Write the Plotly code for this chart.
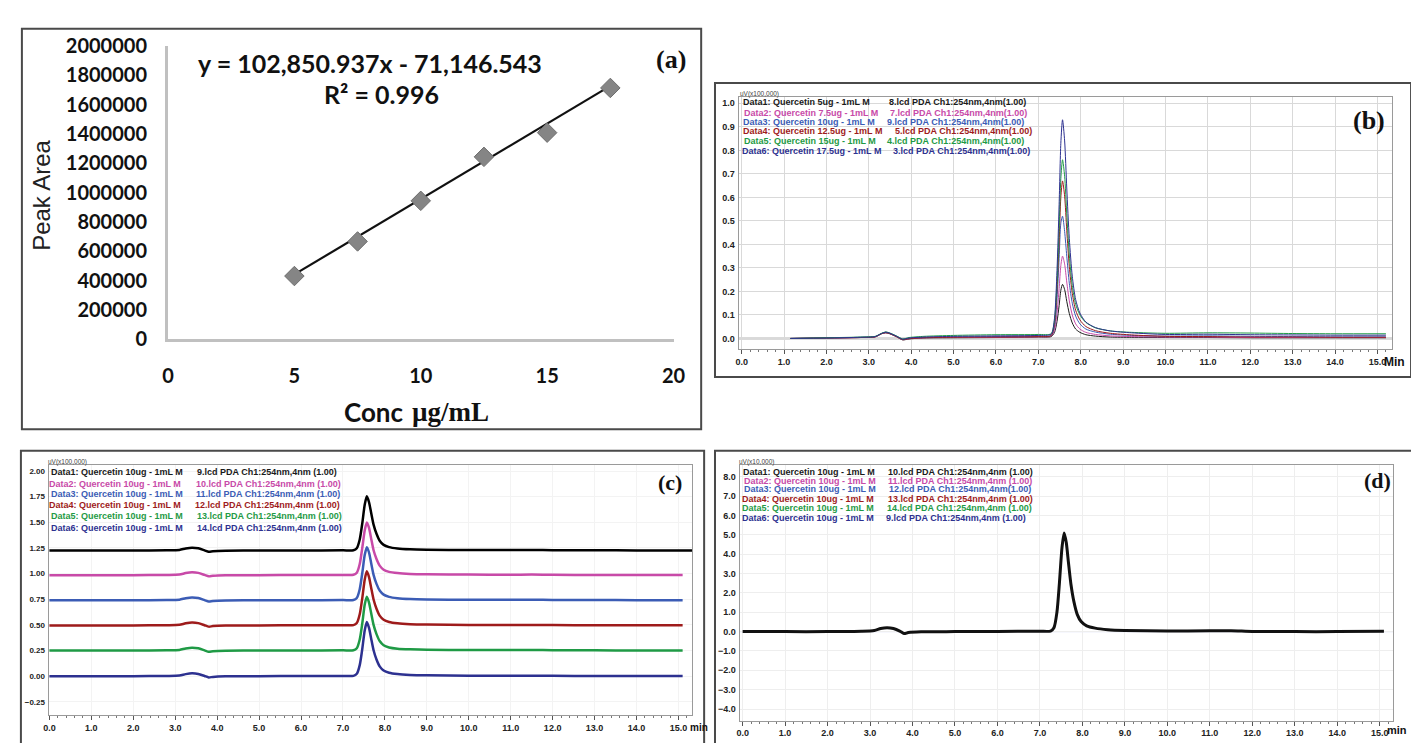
import plotly.graph_objects as go

# ---------------- Panel (a): calibration ----------------
conc = [5, 7.5, 10, 12.5, 15, 17.5]
peak_area = [432000, 668000, 945000, 1245000, 1410000, 1715000]
slope = 102850.937
intercept = -71146.543
a_xticks = [0, 5, 10, 15, 20]
a_yticks = [0, 200000, 400000, 600000, 800000, 1000000, 1200000, 1400000, 1600000, 1800000, 2000000]

# ---------------- Panel (b): linearity chromatograms ----------------
b_time = [1.15, 2.0, 2.8, 3.15, 3.3, 3.4, 3.5, 3.65, 3.8, 3.95, 4.3, 5.0, 6.0, 7.0,
          7.3, 7.38, 7.44, 7.49, 7.53, 7.57, 7.62, 7.67, 7.73, 7.8, 7.88, 7.98, 8.12, 8.35, 8.7, 9.2,
          10.0, 11.0, 12.0, 13.0, 14.0, 15.2]
b_data1 = [0.0, 0.002, 0.004, 0.007, 0.02, 0.024, 0.02, 0.008, -0.006, -0.002, 0.002, 0.003, 0.004, 0.006,
           0.008, 0.025, 0.072, 0.14, 0.205, 0.23, 0.208, 0.158, 0.106, 0.066, 0.04, 0.026, 0.016, 0.01, 0.006, 0.005,
           0.004, 0.004, 0.003, 0.003, 0.003, 0.003]
b_data2 = [0.0, 0.002, 0.004, 0.007, 0.021, 0.025, 0.021, 0.008, -0.005, -0.001, 0.003, 0.004, 0.005, 0.007,
           0.01, 0.035, 0.108, 0.212, 0.31, 0.35, 0.316, 0.24, 0.16, 0.1, 0.062, 0.04, 0.026, 0.017, 0.011, 0.008,
           0.006, 0.006, 0.004, 0.004, 0.004, 0.004]
b_data3 = [0.0, 0.002, 0.005, 0.008, 0.021, 0.026, 0.021, 0.009, -0.004, 0.0, 0.004, 0.006, 0.008, 0.01,
           0.012, 0.05, 0.17, 0.34, 0.49, 0.52, 0.455, 0.35, 0.235, 0.15, 0.095, 0.062, 0.04, 0.027, 0.018, 0.013,
           0.01, 0.011, 0.009, 0.008, 0.007, 0.007]
b_data4 = [0.0, 0.002, 0.004, 0.007, 0.02, 0.025, 0.02, 0.008, -0.005, -0.001, 0.003, 0.005, 0.006, 0.008,
           0.012, 0.06, 0.21, 0.41, 0.6, 0.67, 0.605, 0.46, 0.305, 0.192, 0.12, 0.079, 0.051, 0.033, 0.022, 0.015,
           0.009, 0.008, 0.006, 0.006, 0.005, 0.005]
b_data5 = [0.0, 0.003, 0.006, 0.009, 0.022, 0.028, 0.023, 0.011, -0.002, 0.004, 0.009, 0.013, 0.016, 0.017,
           0.02, 0.075, 0.24, 0.47, 0.68, 0.76, 0.69, 0.53, 0.355, 0.225, 0.145, 0.1, 0.068, 0.045, 0.032, 0.026,
           0.022, 0.024, 0.023, 0.021, 0.02, 0.02]
b_data6 = [0.0, 0.002, 0.005, 0.008, 0.021, 0.027, 0.022, 0.01, -0.003, 0.002, 0.006, 0.009, 0.011, 0.013,
           0.018, 0.085, 0.29, 0.57, 0.83, 0.93, 0.84, 0.64, 0.425, 0.265, 0.165, 0.108, 0.07, 0.046, 0.032, 0.024,
           0.017, 0.018, 0.016, 0.015, 0.014, 0.014]
b_names = ["Data1: Quercetin 5ug - 1mL M", "Data2: Quercetin 7.5ug - 1mL M", "Data3: Quercetin 10ug - 1mL M",
           "Data4: Quercetin 12.5ug - 1mL M", "Data5: Quercetin 15ug - 1mL M", "Data6: Quercetin 17.5ug - 1mL M"]
b_files = ["8.lcd PDA Ch1:254nm,4nm(1.00)", "7.lcd PDA Ch1:254nm,4nm(1.00)", "9.lcd PDA Ch1:254nm,4nm(1.00)",
           "5.lcd PDA Ch1:254nm,4nm(1.00)", "4.lcd PDA Ch1:254nm,4nm(1.00)", "3.lcd PDA Ch1:254nm,4nm(1.00)"]

# ---------------- Panel (c): repeatability (offset) ----------------
c_time = [0.0, 1.0, 2.0, 2.8, 3.1, 3.25, 3.4, 3.55, 3.7, 3.8, 3.9, 4.2, 5.0, 6.0, 7.0,
          7.25, 7.33, 7.4, 7.46, 7.52, 7.57, 7.62, 7.67, 7.73, 7.8, 7.88, 7.97, 8.1, 8.3, 8.6, 9.0,
          10.0, 11.0, 11.5, 12.0, 13.0, 14.0, 15.1]
c_time_data1 = [0.0, 1.0, 2.0, 2.8, 3.1, 3.25, 3.4, 3.55, 3.7, 3.8, 3.9, 4.2, 5.0, 6.0, 7.0,
                7.25, 7.33, 7.4, 7.46, 7.52, 7.57, 7.62, 7.67, 7.73, 7.8, 7.88, 7.97, 8.1, 8.3, 8.6, 9.0,
                10.0, 11.0, 11.5, 12.0, 13.0, 14.0, 15.35]
c_data1 = [1.225, 1.225, 1.225, 1.227, 1.231, 1.245, 1.253, 1.247, 1.227, 1.213, 1.218, 1.223, 1.225, 1.226, 1.227,
           1.228, 1.248, 1.333, 1.488, 1.673, 1.753, 1.698, 1.598, 1.478, 1.388, 1.318, 1.28, 1.258, 1.245, 1.237, 1.233,
           1.23, 1.229, 1.23, 1.228, 1.227, 1.226, 1.226]
c_data2 = [0.985, 0.985, 0.985, 0.987, 0.991, 1.005, 1.013, 1.007, 0.987, 0.973, 0.978, 0.983, 0.985, 0.986, 0.987,
           0.988, 1.008, 1.093, 1.248, 1.423, 1.498, 1.448, 1.348, 1.228, 1.143, 1.075, 1.038, 1.017, 1.005, 0.997, 0.993,
           0.99, 0.989, 0.99, 0.988, 0.987, 0.986, 0.986]
c_data3 = [0.74, 0.74, 0.74, 0.742, 0.746, 0.76, 0.768, 0.762, 0.742, 0.728, 0.733, 0.738, 0.74, 0.741, 0.742,
           0.743, 0.763, 0.848, 1.003, 1.183, 1.258, 1.208, 1.108, 0.988, 0.9, 0.832, 0.795, 0.773, 0.76, 0.752, 0.748,
           0.745, 0.744, 0.745, 0.743, 0.742, 0.741, 0.741]
c_data4 = [0.495, 0.495, 0.495, 0.497, 0.501, 0.515, 0.523, 0.517, 0.497, 0.483, 0.488, 0.493, 0.495, 0.496, 0.497,
           0.498, 0.518, 0.603, 0.758, 0.943, 1.023, 0.968, 0.868, 0.748, 0.658, 0.588, 0.55, 0.528, 0.515, 0.507, 0.503,
           0.5, 0.499, 0.5, 0.498, 0.497, 0.496, 0.496]
c_data5 = [0.25, 0.25, 0.25, 0.252, 0.256, 0.27, 0.278, 0.272, 0.252, 0.238, 0.243, 0.248, 0.25, 0.251, 0.252,
           0.253, 0.273, 0.358, 0.513, 0.698, 0.775, 0.72, 0.62, 0.5, 0.41, 0.34, 0.302, 0.28, 0.268, 0.262, 0.258,
           0.255, 0.254, 0.255, 0.253, 0.252, 0.251, 0.251]
c_data6 = [0.0, 0.0, 0.0, 0.002, 0.006, 0.02, 0.028, 0.022, 0.002, -0.012, -0.007, -0.002, 0.0, 0.001, 0.002,
           0.003, 0.023, 0.108, 0.263, 0.448, 0.528, 0.473, 0.373, 0.253, 0.163, 0.093, 0.055, 0.033, 0.02, 0.012, 0.008,
           0.005, 0.004, 0.005, 0.003, 0.002, 0.001, 0.001]
c_names = ["Data1: Quercetin 10ug - 1mL M", "Data2: Quercetin 10ug - 1mL M", "Data3: Quercetin 10ug - 1mL M",
           "Data4: Quercetin 10ug - 1mL M", "Data5: Quercetin 10ug - 1mL M", "Data6: Quercetin 10ug - 1mL M"]
c_files = ["9.lcd PDA Ch1:254nm,4nm (1.00)", "10.lcd PDA Ch1:254nm,4nm (1.00)", "11.lcd PDA Ch1:254nm,4nm (1.00)",
           "12.lcd PDA Ch1:254nm,4nm (1.00)", "13.lcd PDA Ch1:254nm,4nm (1.00)", "14.lcd PDA Ch1:254nm,4nm (1.00)"]

# ---------------- Panel (d): overlaid repeatability ----------------
d_time = [0.0, 1.0, 2.0, 2.8, 3.1, 3.25, 3.4, 3.55, 3.7, 3.8, 3.9, 4.2, 5.0, 6.0, 7.0,
          7.25, 7.33, 7.4, 7.46, 7.52, 7.57, 7.62, 7.67, 7.73, 7.8, 7.88, 7.97, 8.1, 8.3, 8.6, 9.0,
          10.0, 11.0, 11.5, 12.0, 13.0, 14.0, 15.1]
d_data = [0.0, 0.0, 0.0, 0.02, 0.06, 0.16, 0.2, 0.16, 0.03, -0.1, -0.05, -0.01, 0.0, 0.01, 0.02,
          0.03, 0.2, 1.0, 2.55, 4.35, 5.1, 4.6, 3.6, 2.45, 1.55, 0.88, 0.52, 0.3, 0.18, 0.1, 0.06,
          0.03, 0.04, 0.05, 0.01, 0.0, 0.0, 0.02]
d_names = c_names
d_files = ["10.lcd PDA Ch1:254nm,4nm (1.00)", "11.lcd PDA Ch1:254nm,4nm (1.00)", "12.lcd PDA Ch1:254nm,4nm(1.00)",
           "13.lcd PDA Ch1:254nm,4nm (1.00)", "14.lcd PDA Ch1:254nm,4nm (1.00)", "9.lcd PDA Ch1:254nm,4nm (1.00)"]

chrom_ticks = list(range(0, 16))
chrom_ticktext = ["%.1f" % t for t in chrom_ticks]

series_colors = ["#1a1a1a", "#c84aa8", "#3b5cb5", "#9e1b1b", "#1f9a45", "#2d3190"]

W, H = 1419, 743
def px(x):
    return x / W
def py(y):
    return 1 - y / H

fig = go.Figure()

# ---- (a) traces
fig.add_trace(go.Scatter(x=[conc[0], conc[-1]],
                         y=[slope * conc[0] + intercept, slope * conc[-1] + intercept],
                         mode="lines", line=dict(color="#111111", width=2.2), xaxis="x", yaxis="y"))
fig.add_trace(go.Scatter(x=conc, y=peak_area, mode="markers",
                         marker=dict(symbol="diamond", size=15, color="#858585",
                                     line=dict(color="#6e6e6e", width=1)),
                         xaxis="x", yaxis="y"))

# ---- (b) traces
fig.add_shape(type="line", xref="x2", yref="y2", x0=-0.07, x1=15.35, y0=0, y1=0,
              line=dict(color="#b5b5b5", width=2), layer="below")
for data, col in zip([b_data1, b_data2, b_data3, b_data4, b_data5, b_data6], series_colors):
    fig.add_trace(go.Scatter(x=b_time, y=data, mode="lines",
                             line=dict(color=col, width=1, shape="spline", smoothing=0.7),
                             xaxis="x2", yaxis="y2"))

# ---- (c) traces (draw bottom first)
c_sets = [(c_time, c_data6, series_colors[5]), (c_time, c_data5, series_colors[4]),
          (c_time, c_data4, series_colors[3]), (c_time, c_data3, series_colors[2]),
          (c_time, c_data2, series_colors[1]), (c_time_data1, c_data1, "#000000")]
for tt, data, col in c_sets:
    fig.add_trace(go.Scatter(x=tt, y=data, mode="lines",
                             line=dict(color=col, width=2.5, shape="spline", smoothing=0.7),
                             xaxis="x3", yaxis="y3"))

# ---- (d) traces
fig.add_shape(type="line", xref="x4", yref="y4", x0=-0.07, x1=15.32, y0=0, y1=0,
              line=dict(color="#aab4e6", width=1), layer="below")
fig.add_trace(go.Scatter(x=d_time, y=d_data, mode="lines",
                         line=dict(color="#111111", width=3, shape="spline", smoothing=0.7),
                         xaxis="x4", yaxis="y4"))

chrom_font = dict(family="Liberation Sans, Arial", size=9, color="#222222", weight="bold")

def chrom_x(domain, rng, anchor, grid, gridcolor):
    return dict(domain=domain, range=rng, anchor=anchor, tickvals=chrom_ticks, ticktext=chrom_ticktext,
                showgrid=grid, gridcolor=gridcolor, gridwidth=1, zeroline=False,
                showline=True, mirror=True, linecolor="#9a9a9a", linewidth=1,
                ticks="outside", ticklen=4, tickcolor="#555555", tickfont=chrom_font,
                minor=dict(ticks="outside", ticklen=2, dtick=0.2, tick0=0, tickcolor="#777777", showgrid=False))

def chrom_y(domain, rng, anchor, tickvals, fmt, grid, gridcolor, size=9):
    f = dict(chrom_font)
    f["size"] = size
    return dict(domain=domain, range=rng, anchor=anchor, tickvals=tickvals, tickformat=fmt,
                showgrid=grid, gridcolor=gridcolor, gridwidth=1, zeroline=False,
                showline=True, mirror=True, linecolor="#9a9a9a", linewidth=1,
                ticks="", tickfont=f, ticklabelstandoff=1)

a_font = dict(family="Lato, Open Sans", size=20, color="#111111", weight="bold")

layout = dict(
    width=W, height=H, margin=dict(l=0, r=0, t=0, b=0),
    paper_bgcolor="white", plot_bgcolor="white", showlegend=False, hovermode=False,
    xaxis=dict(domain=[px(156), px(668)], range=[0, 20], anchor="y", tickvals=a_xticks,
               showline=True, linecolor="#c0c0c0", linewidth=3, showgrid=False, zeroline=False,
               ticks="", tickfont=a_font, ticklabelstandoff=17),
    yaxis=dict(domain=[py(329), py(26)], range=[0, 2000000], anchor="x", tickvals=a_yticks,
               tickformat="d", showline=True, linecolor="#c0c0c0", linewidth=3, showgrid=False,
               zeroline=False, ticks="", tickfont=a_font, ticklabelstandoff=14),
    xaxis2=chrom_x([px(734), px(1396)], [-0.07, 15.35], "y2", True, "#d9d9d9"),
    yaxis2=chrom_y([py(339), py(79)], [-0.045, 1.025], "x2", [round(0.1 * i, 1) for i in range(11)],
                   ".1f", True, "#d9d9d9"),
    xaxis3=chrom_x([px(35), px(687)], [-0.02, 15.33], "y3", True, "#f3f3f3"),
    yaxis3=chrom_y([py(717), py(459)], [-0.377, 2.057], "x3",
                   [-0.25, 0, 0.25, 0.5, 0.75, 1.0, 1.25, 1.5, 1.75, 2.0], ".2f", True, "#f3f3f3", size=8),
    xaxis4=chrom_x([px(735), px(1397)], [-0.07, 15.32], "y4", True, "#eeeeee"),
    yaxis4=chrom_y([py(723), py(459)], [-4.6, 8.6], "x4", list(range(-4, 9)), ".1f", True, "#eeeeee"),
)
fig.update_layout(**layout)

# ---- panel borders
for (x0, y0, x1, y1) in [(8, 8, 696, 422), (710, 64, 1415, 368), (7, 444, 699, 750), (710, 444, 1416, 750)]:
    fig.add_shape(type="rect", xref="paper", yref="paper", x0=px(x0), x1=px(x1), y0=py(y1), y1=py(y0),
                  line=dict(color="#4a4a4a", width=2), fillcolor="rgba(0,0,0,0)", layer="above")

ann = []
def text(x, y, s, size, color="#111111", family="Liberation Sans, Arial", bold=False, xanchor="center",
         textangle=0):
    ann.append(dict(x=px(x), y=py(y), xref="paper", yref="paper", text=s, showarrow=False,
                    xanchor=xanchor, yanchor="middle", textangle=textangle,
                    font=dict(family=family, size=size, color=color, weight="bold" if bold else "normal")))

# (a) texts
text(361, 43, "y = 102,850.937x - 71,146.543", 25, family="Lato, Open Sans", bold=True)
text(372, 75, "R² = 0.996", 25, family="Lato, Open Sans", bold=True)
text(665, 40, "(a)", 26, family="Liberation Serif, Times New Roman", bold=True)
text(28, 180, "Peak Area", 24, color="#222222", textangle=-90)
text(397, 404, "Conc", 26, family="Lato, Open Sans", bold=True, xanchor="right")
text(401, 404, "µg/mL", 27, family="Liberation Serif, Times New Roman", bold=True, xanchor="left")

# (b) legend & labels
b_rows = [84, 95, 104.5, 114, 124, 134]
b_c1 = [736, 737, 736, 736, 737, 735]
b_c2 = [884, 885, 882, 890, 882, 888]
for i in range(6):
    text(b_c1[i], b_rows[i], b_names[i], 9, color=series_colors[i], bold=True, xanchor="left")
    text(b_c2[i], b_rows[i], b_files[i], 9, color=series_colors[i], bold=True, xanchor="left")
text(733, 75, "uV(x100,000)", 6.5, color="#444444", xanchor="left")
text(1398, 352, "Min", 12, color="#111111", bold=True)
text(1372, 103, "(b)", 26, family="Liberation Serif, Times New Roman", bold=True)

# (c) legend & labels
c_rows = [466.5, 478, 489, 500.5, 512, 524]
c_c1 = [35, 33, 35, 33, 35, 35]
c_c2 = [183, 182, 182, 181, 183, 183]
for i in range(6):
    text(c_c1[i], c_rows[i], c_names[i], 9, color=series_colors[i], bold=True, xanchor="left")
    text(c_c2[i], c_rows[i], c_files[i], 9, color=series_colors[i], bold=True, xanchor="left")
text(32, 456, "uV(x100,000)", 6.5, color="#444444", xanchor="left")
text(683, 730, "min", 10, color="#111111", bold=True, xanchor="left")
text(664, 477, "(c)", 22, family="Liberation Serif, Times New Roman", bold=True)

# (d) legend & labels
d_rows = [466, 475, 484, 493.5, 503.5, 514]
d_c1 = [736, 737, 737, 735, 735, 735]
d_c2 = [883, 883, 884, 883, 882, 881]
for i in range(6):
    text(d_c1[i], d_rows[i], d_names[i], 9, color=series_colors[i], bold=True, xanchor="left")
    text(d_c2[i], d_rows[i], d_files[i], 9, color=series_colors[i], bold=True, xanchor="left")
text(732, 456, "uV(x10,000)", 6.5, color="#444444", xanchor="left")
text(1401, 733, "min", 11, color="#111111", bold=True)
text(1381, 475, "(d)", 22, family="Liberation Serif, Times New Roman", bold=True)

fig.update_layout(annotations=ann)
fig.write_html("out.html")
